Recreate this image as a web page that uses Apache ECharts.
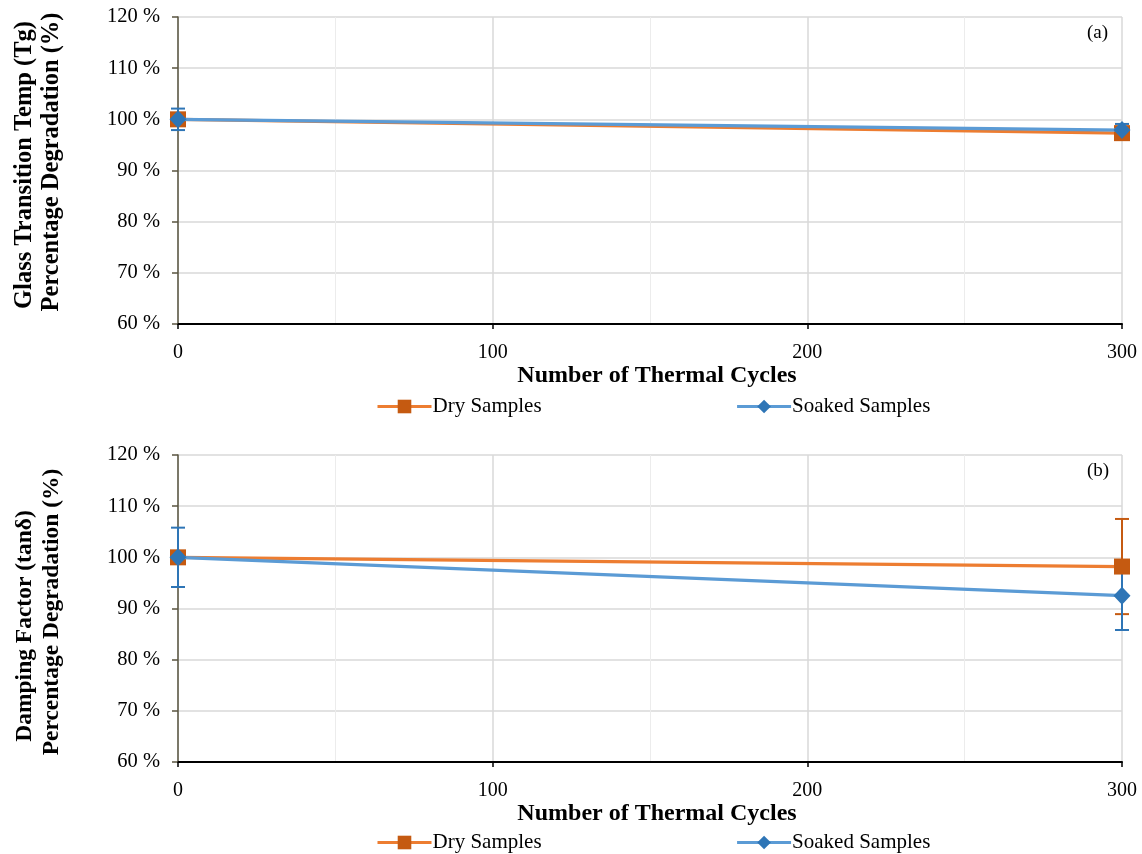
<!DOCTYPE html>
<html>
<head>
<meta charset="utf-8">
<script src="https://cdn.jsdelivr.net/npm/echarts@6/dist/echarts.min.js"></script>
<style>
  html, body { margin: 0; padding: 0; background: #fff; }
  #chart { width: 1142px; height: 854px; }
</style>
</head>
<body>
<div id="chart"></div>
<script>
// Thermal cycle counts
const cycles = [0, 300];

// (a) Glass transition temperature, % of initial
const tgDry = [100, 97.3];
const tgDryErr = [0.6, 0.5];
const tgSoaked = [100, 97.9];
const tgSoakedErr = [2.1, 1.2];

// (b) Damping factor, % of initial
const tanDry = [100, 98.2];
const tanDryErr = [0.8, 9.3];
const tanSoaked = [100, 92.5];
const tanSoakedErr = [5.8, 6.7];

const yTicks = [60, 70, 80, 90, 100, 110, 120];
const xTicks = [0, 100, 200, 300];

const SERIF = '"Liberation Serif", "Times New Roman", serif';
const DRY_LINE = '#ed7d31', DRY_MARK = '#c55a11';
const WET_LINE = '#5b9bd5', WET_MARK = '#2e75b6';

function pairs(vals) { return cycles.map((c, i) => [c, vals[i]]); }
function errPairs(vals, errs) { return cycles.map((c, i) => [c, vals[i], errs[i]]); }

function errorSeries(idx, vals, errs, color, z) {
  return {
    type: 'custom', xAxisIndex: idx, yAxisIndex: idx, z: z, silent: true,
    clip: false,
    data: errPairs(vals, errs),
    encode: { x: 0, y: 1 },
    renderItem: function (params, api) {
      const x = api.value(0), y = api.value(1), e = api.value(2);
      const hi = api.coord([x, y + e]);
      const lo = api.coord([x, y - e]);
      const cap = 7;
      const st = { stroke: color, lineWidth: 2 };
      return {
        type: 'group',
        children: [
          { type: 'line', shape: { x1: hi[0], y1: hi[1], x2: lo[0], y2: lo[1] }, style: st },
          { type: 'line', shape: { x1: hi[0] - cap, y1: hi[1], x2: hi[0] + cap, y2: hi[1] }, style: st },
          { type: 'line', shape: { x1: lo[0] - cap, y1: lo[1], x2: lo[0] + cap, y2: lo[1] }, style: st }
        ]
      };
    }
  };
}

function lineSeries(idx, name, vals, lineColor, markColor, symbol, size, z) {
  return {
    type: 'line', name: name, xAxisIndex: idx, yAxisIndex: idx, z: z,
    data: pairs(vals),
    symbol: symbol, symbolSize: size, showSymbol: true,
    lineStyle: { color: lineColor, width: 3.2 },
    itemStyle: { color: markColor },
    animation: false
  };
}

function xAxis(idx) {
  return {
    type: 'value', gridIndex: idx, min: 0, max: 300, interval: 100,
    name: 'Number of Thermal Cycles', nameLocation: 'middle', nameGap: 32,
    nameTextStyle: { fontFamily: SERIF, fontSize: 24, fontWeight: 'bold', color: '#000', padding: [0, 0, 0, 14] },
    axisLine: { show: true, onZero: false, lineStyle: { color: '#000', width: 2 } },
    axisTick: { show: true, inside: false, length: 5, lineStyle: { color: '#000', width: 1.5 } },
    axisLabel: { fontFamily: SERIF, fontSize: 20, color: '#000', margin: 19,
      formatter: v => xTicks.includes(v) ? String(v) : '' },
    splitLine: { show: true, lineStyle: { color: '#d9d9d9', width: 1.5 } },
    minorTick: { show: false, splitNumber: 2 },
    minorSplitLine: { show: true, lineStyle: { color: '#ececec', width: 1 } }
  };
}

function yAxis(idx) {
  return {
    type: 'value', gridIndex: idx, min: 60, max: 120, interval: 10,
    axisLine: { show: true, lineStyle: { color: '#595440', width: 1.5 } },
    axisTick: { show: true, inside: false, length: 6, lineStyle: { color: '#595440', width: 1.5 } },
    axisLabel: { fontFamily: SERIF, fontSize: 20.5, color: '#000', margin: 18,
      formatter: v => yTicks.includes(v) ? v + ' %' : '' },
    splitLine: { show: true, lineStyle: { color: '#d9d9d9', width: 1.5 } }
  };
}

function legend(top) {
  return {
    top: top, left: 371, itemGap: 194, itemWidth: 54, itemHeight: 17,
    data: ['Dry Samples', 'Soaked Samples'],
    lineStyle: { width: 3 },
    textStyle: { fontFamily: SERIF, fontSize: 21, color: '#000', padding: [0, 0, 0, -4] },
    selectedMode: false
  };
}

// rotated two-line y-axis titles
function vText(text, x, y, size) {
  return {
    type: 'text', x: x, y: y, rotation: Math.PI / 2,
    style: { text: text, font: 'bold ' + size + 'px ' + SERIF, fill: '#000',
      textAlign: 'center', textVerticalAlign: 'middle' }
  };
}

const option = {
  backgroundColor: '#fff',
  animation: false,
  grid: [
    { left: 178, right: 20, top: 17, height: 307 },
    { left: 178, right: 20, top: 455, height: 307 }
  ],
  xAxis: [xAxis(0), xAxis(1)],
  yAxis: [yAxis(0), yAxis(1)],
  legend: [legend(391), legend(827)],
  graphic: [
    vText('Glass Transition Temp (Tg)', 25, 165, 24.5),
    vText('Percentage Degradation (%)', 52, 162, 24.5),
    vText('Damping Factor (tanδ)', 25, 626, 23.5),
    vText('Percentage Degradation (%)', 52, 612, 23.5),
    { type: 'text', left: 1087, top: 24, style: { text: '(a)', font: '19px ' + SERIF, fill: '#000' } },
    { type: 'text', left: 1087, top: 462, style: { text: '(b)', font: '19px ' + SERIF, fill: '#000' } }
  ],
  series: [
    errorSeries(0, tgDry, tgDryErr, DRY_MARK, 2),
    errorSeries(0, tgSoaked, tgSoakedErr, WET_MARK, 2),
    lineSeries(0, 'Dry Samples', tgDry, DRY_LINE, DRY_MARK, 'rect', 16, 3),
    lineSeries(0, 'Soaked Samples', tgSoaked, WET_LINE, WET_MARK, 'diamond', [17, 18], 4),
    errorSeries(1, tanDry, tanDryErr, DRY_MARK, 2),
    errorSeries(1, tanSoaked, tanSoakedErr, WET_MARK, 2),
    lineSeries(1, 'Dry Samples', tanDry, DRY_LINE, DRY_MARK, 'rect', 16, 3),
    lineSeries(1, 'Soaked Samples', tanSoaked, WET_LINE, WET_MARK, 'diamond', [17, 18], 4)
  ]
};

const chart = echarts.init(document.getElementById('chart'), null, { renderer: 'canvas' });
chart.setOption(option);
</script>
</body>
</html>
